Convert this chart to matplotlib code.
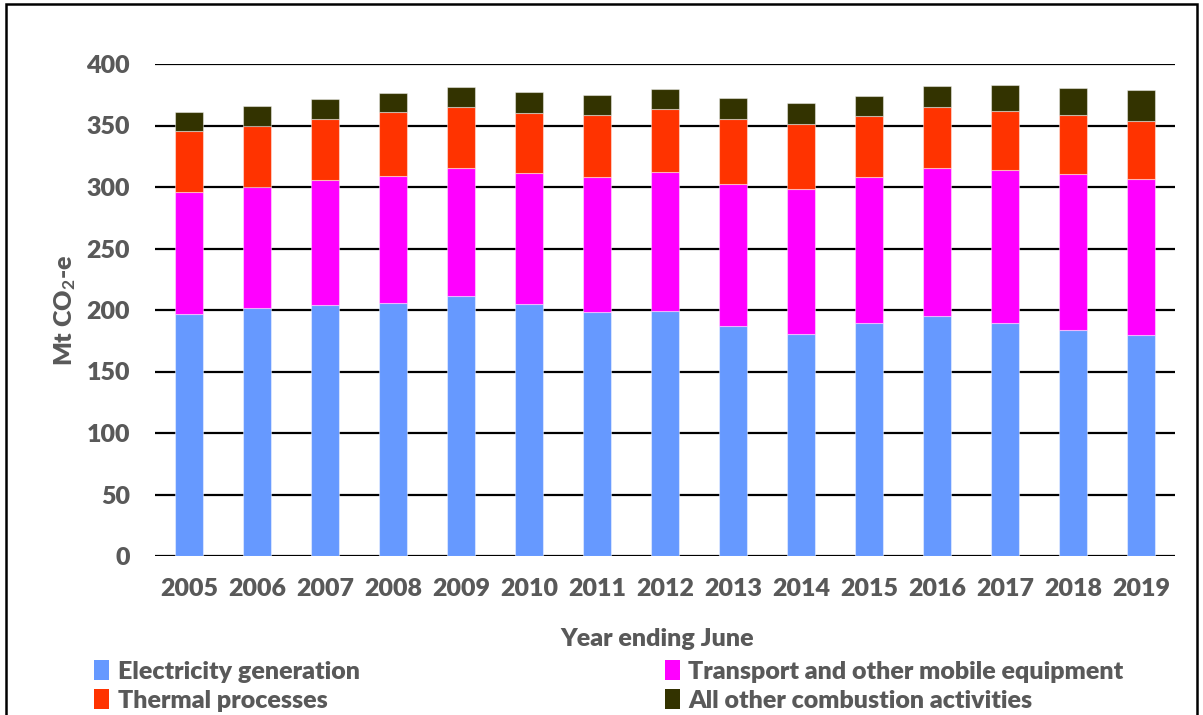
import matplotlib
matplotlib.use("Agg")
import matplotlib.pyplot as plt
from matplotlib.patches import Rectangle, Patch
import numpy as np

years = ["2005", "2006", "2007", "2008", "2009", "2010", "2011", "2012",
         "2013", "2014", "2015", "2016", "2017", "2018", "2019"]
electricity = [196.7, 201.4, 204.1, 205.7, 211.6, 204.9, 198.5, 199.3,
               187.0, 180.7, 189.4, 195.1, 189.7, 183.7, 179.7]
transport = [99.0, 98.6, 101.3, 103.0, 104.1, 106.2, 109.9, 112.9,
             115.2, 117.4, 118.5, 120.1, 124.4, 126.6, 126.5]
thermal = [49.8, 49.9, 49.9, 52.0, 49.3, 48.8, 49.9, 50.9,
           53.1, 53.1, 50.1, 49.6, 47.9, 48.2, 47.7]
other = [15.2, 15.7, 16.0, 16.0, 16.6, 17.1, 16.5, 16.6,
         17.1, 17.1, 16.0, 17.0, 20.7, 22.3, 25.2]

series_names = ["Electricity generation", "Transport and other mobile equipment",
                "Thermal processes", "All other combustion activities"]
colors = ["#6699FF", "#FF00FF", "#FF3300", "#333300"]

plt.rcParams["font.family"] = ["Lato", "DejaVu Sans"]
plt.rcParams["mathtext.fontset"] = "custom"
plt.rcParams["mathtext.rm"] = "Lato:bold"
plt.rcParams["mathtext.bf"] = "Lato:bold"
plt.rcParams["mathtext.default"] = "bf"
text_color = "#595959"
weight = "heavy"

W, H = 1203, 715
fig = plt.figure(figsize=(W / 100, H / 100), dpi=100)
ax = fig.add_axes([155 / W, (H - 556) / H, (1175 - 155) / W, (556 - 64) / H])

x = np.arange(len(years))
bottom = np.zeros(len(years))
for vals, col, name in zip([electricity, transport, thermal, other], colors, series_names):
    vals = np.array(vals)
    ax.bar(x, vals, width=0.4, bottom=bottom, color=col, label=name,
           edgecolor=(1, 1, 1, 0.45), linewidth=0.8, zorder=3)
    bottom += vals

ax.set_xlim(-0.5, len(years) - 0.5)
ax.set_ylim(0, 400)
ax.set_yticks(np.arange(0, 401, 50))
ax.set_xticks(x)
ax.set_xticklabels(years)
ax.yaxis.grid(True, color="black", linewidth=1.6, zorder=1)
ax.set_axisbelow(True)
for s in ax.spines.values():
    s.set_visible(False)
ax.tick_params(axis="both", length=0, labelsize=18, labelcolor=text_color)
ax.tick_params(axis="y", pad=18)
ax.tick_params(axis="x", pad=16)
for lab in ax.get_xticklabels() + ax.get_yticklabels():
    lab.set_fontweight(weight)

ax.set_xlabel("Year ending June", fontsize=18, fontweight=weight, color=text_color, labelpad=20)
ax.xaxis.set_label_coords(0.492, -0.147)
ax.set_ylabel("Mt CO$_2$-e", fontsize=18, fontweight=weight, color=text_color, labelpad=6)

handles = [Patch(facecolor=c) for c in colors]
order = [0, 2, 1, 3]
leg = fig.legend([handles[i] for i in order], [series_names[i] for i in order],
                 ncol=2, loc="upper left", bbox_to_anchor=(94 / W, 1 - 660 / H),
                 frameon=False, fontsize=18, handlelength=0.6, handleheight=0.85,
                 handletextpad=0.35, columnspacing=12.2, labelspacing=0.25,
                 borderpad=0, borderaxespad=0)
for t in leg.get_texts():
    t.set_color(text_color)
    t.set_fontweight(weight)

fig.patches.append(Rectangle((6 / W, -0.05), (1197 - 6) / W, 1.05 - 4 / H,
                             transform=fig.transFigure, fill=False,
                             edgecolor="black", linewidth=1.8))

fig.savefig("out.png", dpi=100)
